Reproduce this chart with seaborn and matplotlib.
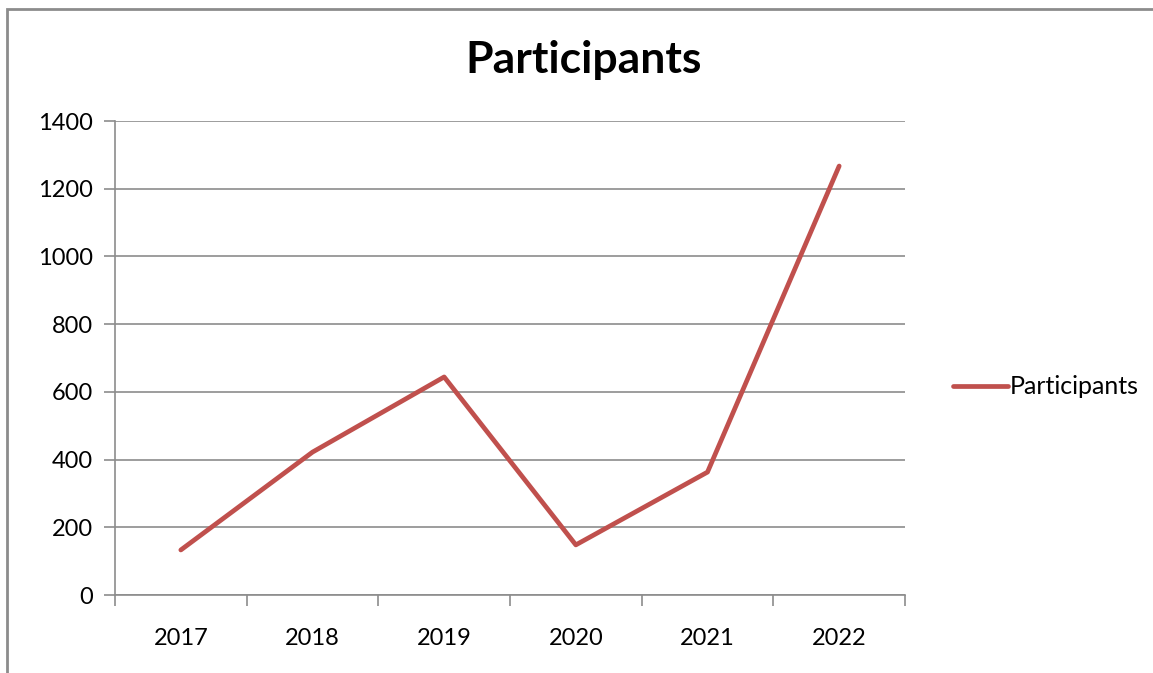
"""
Participants per year, Excel-style line chart
"""

import matplotlib.pyplot as plt
import matplotlib.patches as mpatches
import seaborn as sns
import pandas as pd

years = ['2017', '2018', '2019', '2020', '2021', '2022']
participants = [133, 422, 644, 148, 363, 1267]
y_ticks = [0, 200, 400, 600, 800, 1000, 1200, 1400]

df = pd.DataFrame({'Year': years, 'Participants': participants})

sns.set_style('white')
plt.rcParams['font.family'] = ['Lato', 'DejaVu Sans']
plt.rcParams['text.color'] = 'black'
plt.rcParams['xtick.color'] = 'black'
plt.rcParams['ytick.color'] = 'black'

fig = plt.figure(figsize=(11.53, 6.73), dpi=100)
ax = fig.add_axes([115 / 1153, 78 / 673, 790 / 1153, 474 / 673])

# outer chart border (left and top visible)
fig.patches.append(mpatches.Rectangle((7 / 1153, -0.1), 1.2, (673 - 9) / 673 + 0.1,
                                      transform=fig.transFigure, fill=False,
                                      edgecolor='#8c8c8c', linewidth=2))

sns.lineplot(data=df, x='Year', y='Participants', color='#C0504D', linewidth=3.4,
             label='Participants', ax=ax, sort=False)

ax.set_xlim(-0.5, 5.5)
ax.set_ylim(0, 1400)
ax.set_yticks(y_ticks)
ax.set_xticks([i - 0.5 for i in range(7)], minor=True)
ax.tick_params(axis='x', which='major', length=0, pad=24, labelsize=17, labelcolor='black')
ax.tick_params(axis='x', which='minor', bottom=True, length=8, width=1.2,
               color='#8c8c8c', direction='out')
ax.tick_params(axis='y', left=True, length=8, width=1.2, color='#8c8c8c',
               direction='out', pad=8, labelsize=17, labelcolor='black')
ax.grid(axis='y', color='#8c8c8c', linewidth=1.2)
ax.set_axisbelow(True)

for side in ['top', 'right']:
    ax.spines[side].set_visible(False)
for side in ['left', 'bottom']:
    ax.spines[side].set_color('#8c8c8c')
    ax.spines[side].set_linewidth(1.2)

ax.set_xlabel('')
ax.set_ylabel('')
ax.get_legend().remove()

fig.text(584 / 1153, 1 - 60 / 673, 'Participants', ha='center', va='center',
         fontsize=32, fontweight='bold', color='black')

handles, labels = ax.get_legend_handles_labels()
fig.legend(handles, labels, loc='center left', bbox_to_anchor=(930 / 1153, 1 - 387 / 673),
           frameon=False, fontsize=18, handlelength=2.2, handletextpad=0.1,
           labelcolor='black')

plt.savefig('out.png', dpi=100)
